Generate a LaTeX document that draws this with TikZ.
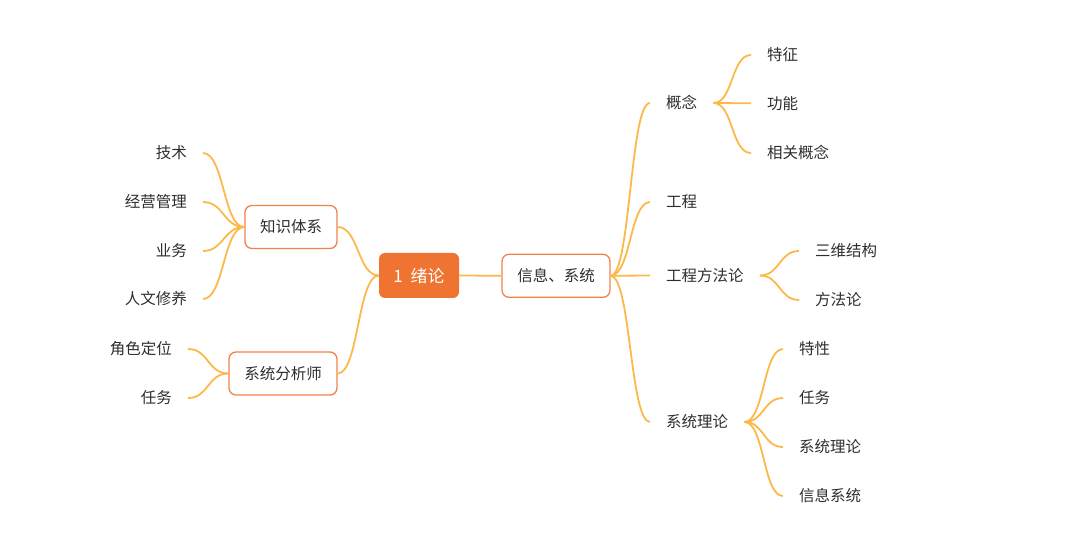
\documentclass[tikz,border=0pt]{standalone}
\usepackage{fontspec}
\setmainfont{Noto Sans CJK SC}
\definecolor{linkc}{HTML}{FDB84A}
\definecolor{boxc}{HTML}{F0834A}
\definecolor{rootc}{HTML}{EF7331}
\definecolor{textc}{HTML}{2E2E2E}
\tikzset{
  link/.style={draw=linkc, line width=1.8pt},
  box/.style={draw=boxc, line width=1.3pt, rounded corners=7pt, fill=white,
    minimum height=43pt, inner xsep=0pt, text=textc, font=\fontsize{15.5}{18}\selectfont},
  rootbox/.style={fill=rootc, rounded corners=6pt, minimum width=80pt, minimum height=45pt,
    inner xsep=0pt, text=white, font=\fontsize{17}{20}\selectfont},
  leaf/.style={text=textc, font=\fontsize{15.5}{18}\selectfont, inner xsep=16pt, inner ysep=2pt},
}
\begin{document}
\begin{tikzpicture}[x=1pt,y=1pt]
\useasboundingbox (0,0) rectangle (1085,-537);
% main boxes
\node[rootbox] (r) at (419,-275.5) {1\hspace{0.45em}绪论};
\node[box, minimum width=108pt] (xx) at (556,-275.8) {信息、系统};
\node[box, minimum width=92pt] (zs) at (291,-227) {知识体系};
\node[box, minimum width=108pt] (fx) at (283,-373.5) {系统分析师};
% left leaves
\node[leaf, anchor=east] (js) at (203,-153) {技术};
\node[leaf, anchor=east] (jy) at (203,-202) {经营管理};
\node[leaf, anchor=east] (yw) at (203,-251) {业务};
\node[leaf, anchor=east] (rw) at (203,-299) {人文修养};
\node[leaf, anchor=east] (js2) at (188,-349) {角色定位};
\node[leaf, anchor=east] (rw2) at (188,-398) {任务};
% right level 1
\node[leaf, anchor=west] (gn) at (650,-103) {概念};
\node[leaf, anchor=west] (gc) at (650,-202) {工程};
\node[leaf, anchor=west] (ff) at (650,-275.5) {工程方法论};
\node[leaf, anchor=west] (xl) at (650,-422) {系统理论};
% right level 2
\node[leaf, anchor=west] (tz) at (751,-55) {特征};
\node[leaf, anchor=west] (gnn) at (751,-103.3) {功能};
\node[leaf, anchor=west] (xg) at (751,-153) {相关概念};
\node[leaf, anchor=west] (sw) at (799,-251) {三维结构};
\node[leaf, anchor=west] (ffl) at (799,-300) {方法论};
\node[leaf, anchor=west] (tx) at (783,-349) {特性};
\node[leaf, anchor=west] (rw3) at (783,-398) {任务};
\node[leaf, anchor=west] (xl2) at (783,-447) {系统理论};
\node[leaf, anchor=west] (xt) at (783,-496) {信息系统};
% connectors
\foreach \a in {js,jy,yw,rw}
  \draw[link] (\a.east) .. controls +(21,0) and +(-21,0) .. (zs.west);
\foreach \a in {js2,rw2}
  \draw[link] (\a.east) .. controls +(21,0) and +(-21,0) .. (fx.west);
\foreach \a in {zs,fx}
  \draw[link] (\a.east) .. controls +(21,0) and +(-21,0) .. (r.west);
\draw[link] (r.east) .. controls +(15,0) and +(-15,0) .. (xx.west);
\foreach \b in {gn,gc,ff,xl}
  \draw[link] (xx.east) .. controls +(20,0) and +(-20,0) .. (\b.west);
\foreach \b in {tz,gnn,xg}
  \draw[link] (gn.east) .. controls +(20,0) and +(-20,0) .. (\b.west);
\foreach \b in {sw,ffl}
  \draw[link] (ff.east) .. controls +(20,0) and +(-20,0) .. (\b.west);
\foreach \b in {tx,rw3,xl2,xt}
  \draw[link] (xl.east) .. controls +(20,0) and +(-20,0) .. (\b.west);
\end{tikzpicture}
\end{document}
